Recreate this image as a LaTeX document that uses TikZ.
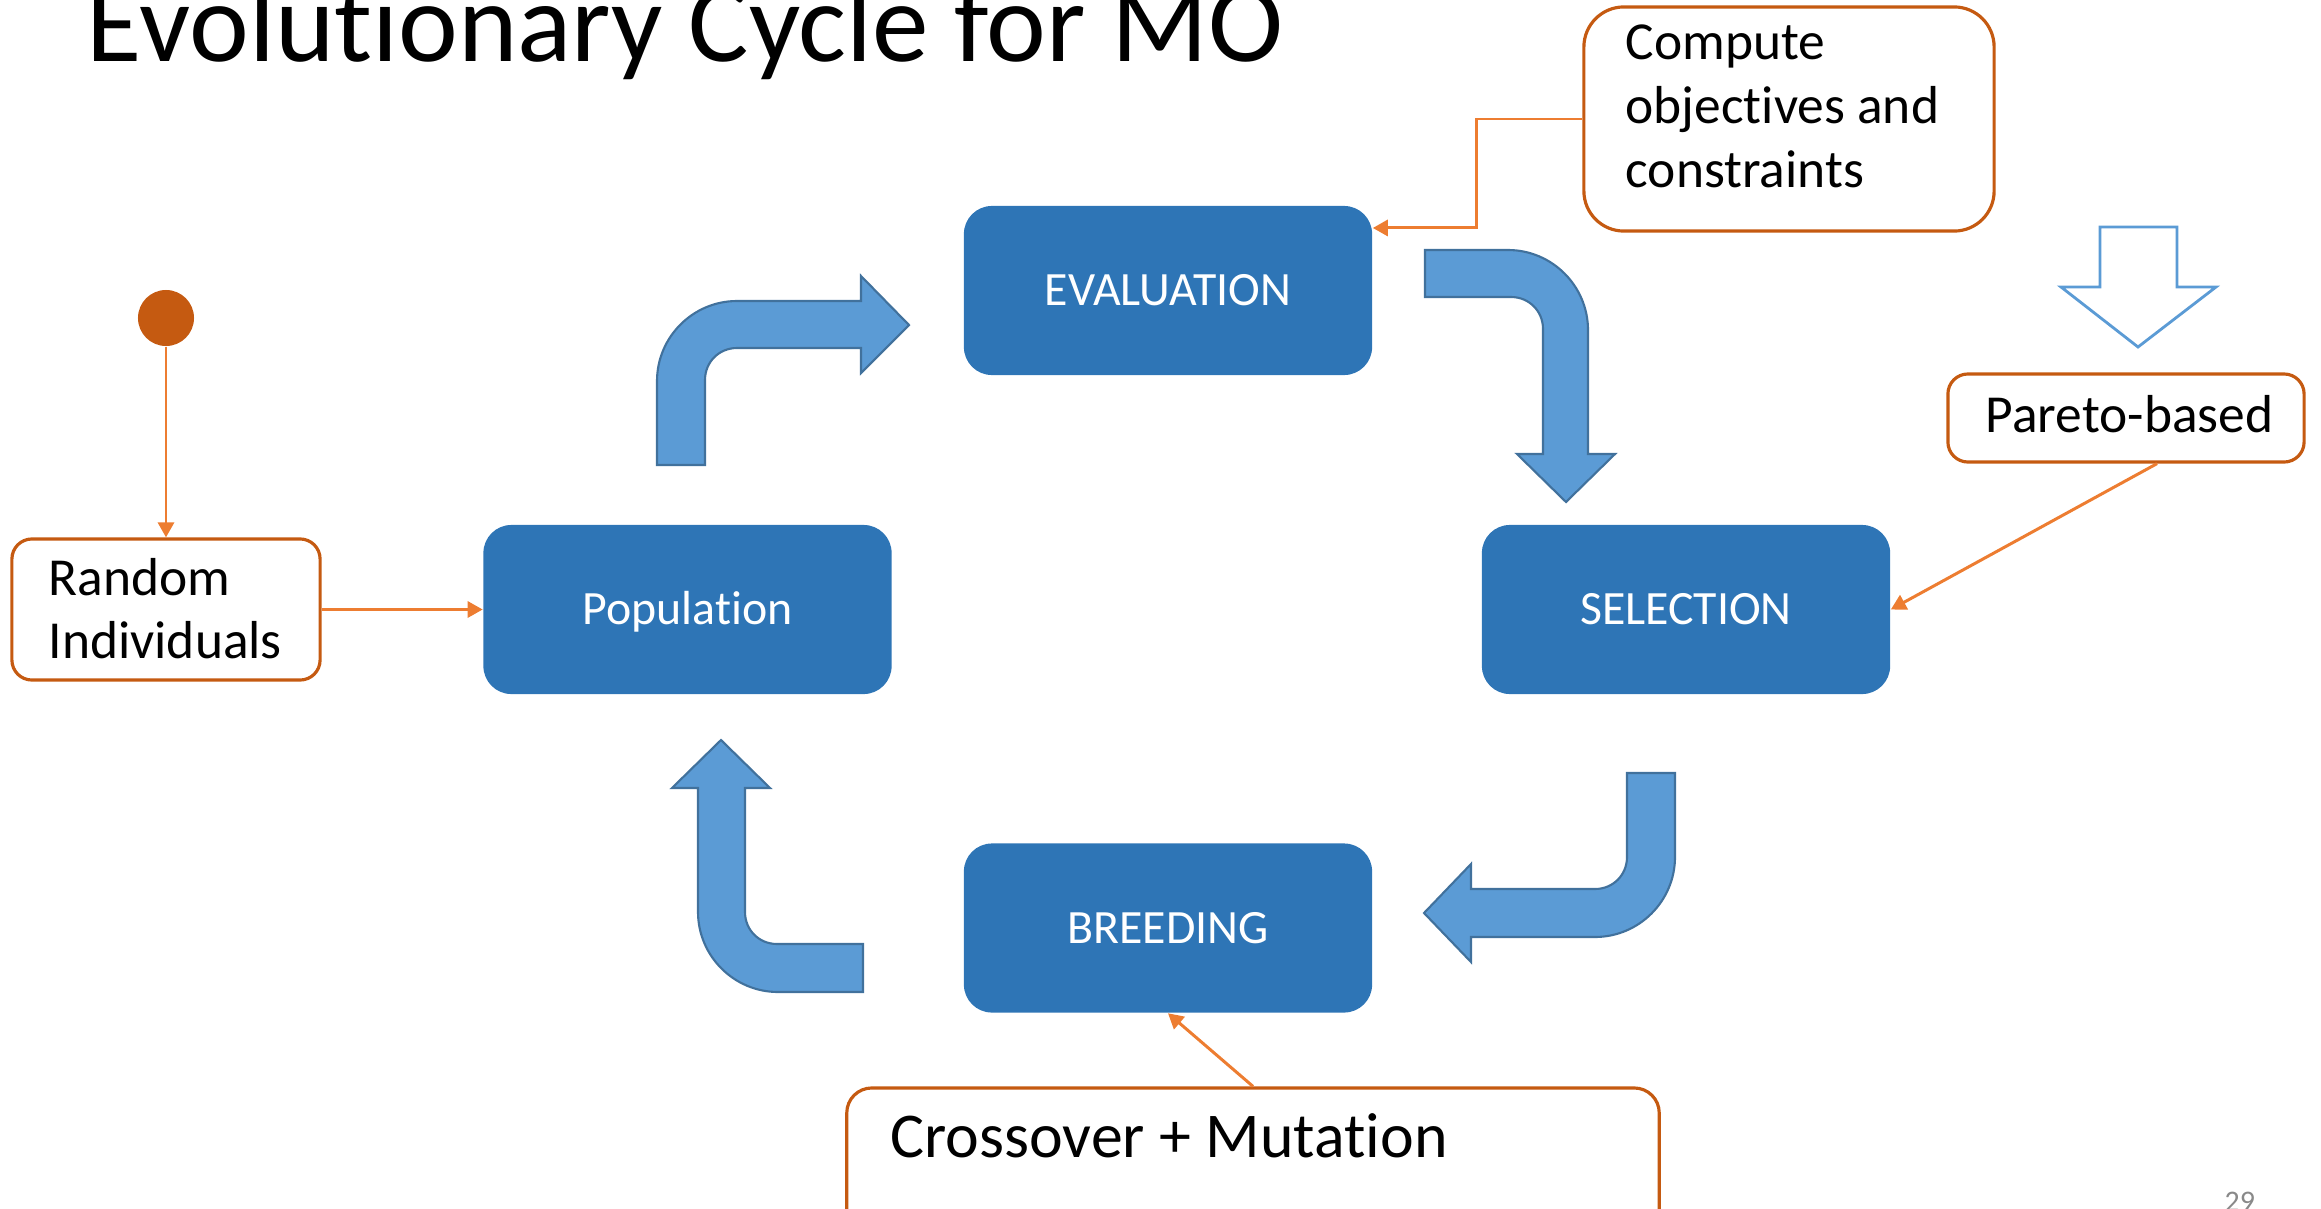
\documentclass[tikz,border=0pt]{standalone}
\usepackage{fontspec}
\setmainfont[Ligatures=NoCommon]{Carlito}
\usetikzlibrary{arrows.meta,calc}
\definecolor{boxblue}{HTML}{2E75B6}
\definecolor{arrblue}{HTML}{5B9BD5}
\definecolor{arredge}{HTML}{41719C}
\definecolor{obord}{HTML}{C55A11}
\definecolor{oline}{HTML}{ED7D31}
\definecolor{pgray}{HTML}{898989}
\begin{document}
\begin{tikzpicture}[x=0.01cm,y=-0.01cm,
 stage/.style={fill=boxblue, draw=none, rounded corners=0.28cm, minimum width=4.08cm, minimum height=1.69cm, inner sep=0pt, text=white, font=\fontsize{13.6}{16}\selectfont, text height=8.8pt, text depth=0pt},
 callout/.style={draw=obord, line width=0.9pt, fill=white, rounded corners=0.2cm, inner sep=0pt},
 ctext/.style={anchor=base west, inner sep=0pt, font=\fontsize{15.2}{18}\selectfont},
 bent/.style={fill=arrblue, draw=arredge, line width=0.6pt, line join=miter},
 hollow/.style={fill=white, draw=arrblue, line width=0.8pt, line join=miter},
 link/.style={draw=oline, line width=0.85pt, -{Triangle[length=4.3pt,width=4.6pt]}},
]
\useasboundingbox (0,0) rectangle (2321,1209);

% title
\node[anchor=base west, inner sep=0pt, font=\fontsize{32.2}{36}\selectfont] (title) at (86,61) {Evolutionary Cycle for MO};

% stages
\node[stage] (eval) at (1168,290.5) {EVALUATION};
\node[stage] (pop) at (687.5,609.5) {Population};
\node[stage] (sel) at (1686,609.5) {SELECTION};
\node[stage] (breed) at (1168,928) {BREEDING};

% callouts
\node[callout, minimum width=3.08cm, minimum height=1.41cm] (rand) at (166,609.5) {};
\node[ctext] (randt1) at (48,595) {Random};
\node[ctext] (randt2) at (48,658) {Individuals};

\node[callout, rounded corners=0.4cm, minimum width=4.10cm, minimum height=2.24cm] (comp) at (1789,119) {};
\node[ctext] (compt1) at (1625,60) {Compute};
\node[ctext] (compt2) at (1625,123) {objectives and};
\node[ctext] (compt3) at (1625,187) {constraints};

\node[callout, minimum width=3.56cm, minimum height=0.88cm] (pareto) at (2126,418) {};
\node[ctext] (paretot) at (1985,432) {Pareto-based};

\node[callout, rounded corners=0.25cm, minimum width=8.12cm, minimum height=1.52cm] (cross) at (1253,1164) {};
\node[ctext, font=\fontsize{18.15}{21}\selectfont] (crosst) at (890,1157) {Crossover + Mutation};

% start dot
\node[circle, fill=obord, minimum size=0.56cm, inner sep=0pt] (dot) at (166,318) {};

% hollow arrow
\draw[hollow] (2100,227) -- (2177,227) -- (2177,287) -- (2216,287) -- (2138,347) -- (2061,287) -- (2100,287) -- cycle;

% bent arrows
\draw[bent] (657,465) -- (657,381) .. controls (657,337) and (693,301) .. (737,301)
  -- (861,301) -- (861,276) -- (909,325) -- (861,373) -- (861,348) -- (737,348)
  .. controls (719,348) and (705,362) .. (705,380) -- (705,465) -- cycle;

\draw[bent] (1425,250) -- (1508,250) .. controls (1552,250) and (1588,286) .. (1588,330)
  -- (1588,454) -- (1615,454) -- (1566,502) -- (1517,454) -- (1543,454) -- (1543,329)
  .. controls (1543,311) and (1529,297) .. (1511,297) -- (1425,297) -- cycle;

\draw[bent] (1627,773) -- (1675,773) -- (1675,857) .. controls (1675,901) and (1639,937) .. (1595,937)
  -- (1471,937) -- (1471,962) -- (1424,913) -- (1471,864) -- (1471,889) -- (1595,889)
  .. controls (1613,889) and (1627,875) .. (1627,857) -- cycle;

\draw[bent] (863,944) -- (863,992) -- (778,992) .. controls (734,992) and (698,956) .. (698,912)
  -- (698,788) -- (672,788) -- (721,740) -- (770,788) -- (745,788) -- (745,912)
  .. controls (745,930) and (759,944) .. (777,944) -- cycle;

% connectors
\draw[link] (dot) -- (rand.north);
\draw[link] (rand.east) -- (pop.west);
\draw[link] (comp.west) -- ++(-106,0) |- ([yshift=0.625cm]eval.east);
\draw[link] ([xshift=0.31cm]pareto.south) -- (sel.east);
\draw[link] (cross.north) -- (breed.south);

% page number
\node[anchor=base west, inner sep=0pt, text=pgray, font=\fontsize{8.5}{10}\selectfont] (pagenum) at (2224,1211) {29};
\end{tikzpicture}
\end{document}
